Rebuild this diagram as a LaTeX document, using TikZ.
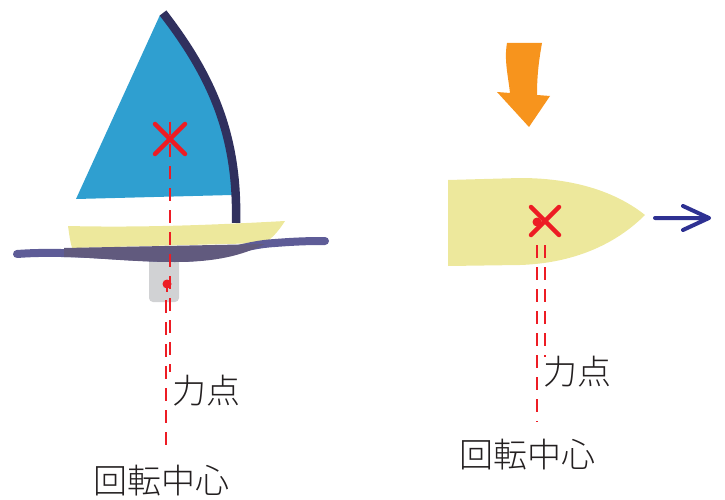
\documentclass[tikz,border=0pt]{standalone}
\usepackage{fontspec}
\newfontfamily\jpfont{Noto Sans CJK JP Light}
\definecolor{sailblue}{HTML}{2F9FD0}
\definecolor{mastnavy}{HTML}{30305E}
\definecolor{hullyellow}{HTML}{EDE89C}
\definecolor{waterline}{HTML}{5E5C97}
\definecolor{waterhull}{HTML}{615A7E}
\definecolor{keelgray}{HTML}{D1D2D4}
\definecolor{markred}{HTML}{ED1C24}
\definecolor{windorange}{HTML}{F7941D}
\definecolor{headblue}{HTML}{2E3192}
\definecolor{txtgray}{HTML}{231F20}
\tikzset{
  lbl/.style={font=\jpfont\fontsize{34}{36}\selectfont, text=txtgray, inner sep=0pt},
  cross/.style={draw=markred, line width=4.5pt, line cap=round},
  guide/.style={draw=markred, line width=2pt, dash pattern=on 13pt off 9pt},
  pivot/.style={fill=markred},
}
\begin{document}
\begin{tikzpicture}[x=1pt,y=-1pt]
\useasboundingbox (0,0) rectangle (725,500);

% ---------- sailboat, side view ----------
% keel
\fill[keelgray, rounded corners=4pt] (149,250) -- (179,250) -- (179,302) -- (149,302) -- cycle;
% sail
\fill[sailblue] (160,15) -- (76,199) -- (232,195) .. controls (232,140) and (210,75) .. (160,15) -- cycle;
% mast
\draw[mastnavy, line width=8.5pt] (163,13) .. controls (215,80) and (238,140) .. (236,223);
% hull
\fill[hullyellow] (68,226) .. controls (150,228) and (230,224) .. (285,221)
  .. controls (278,232) and (272,238) .. (265,243) -- (72,248) .. controls (70,240) .. (68,226) -- cycle;
% water line
\draw[waterline, line width=8pt, line cap=round]
  (17,254) .. controls (70,250) and (130,258) .. (175,258)
  .. controls (220,258) and (240,245) .. (275,243)
  .. controls (300,241) and (315,241) .. (325,241);
\fill[waterhull] (64,248) -- (265,244) .. controls (248,252) and (225,262) .. (175,262)
  .. controls (130,262) and (90,257) .. (64,257) -- cycle;

% marks
\coordinate (sailce) at (170,139);
\coordinate (keelpt) at (167,284);
\draw[cross] (155,124) -- (185,154) (185,124) -- (155,154);
\fill[pivot] (keelpt) circle (4.5pt);
\draw[markred, line width=2pt] (keelpt) -- ++(0,8);

\node[lbl, anchor=west] (forceL) at (172,391) {力点};
\node[lbl] (pivotL) at (161,481) {回転中心};
\coordinate (forceLend) at (170,372);
\coordinate (pivotLend) at (166,448);
\draw[guide] ([yshift=17pt]sailce) -- (forceLend);
\draw[guide] (166,300) -- (pivotLend);

% ---------- boat, top view ----------
% wind arrow
\fill[windorange] (507,43) -- (542,43) .. controls (538,65) and (537,80) .. (537,95)
  -- (550,96) -- (529,127) -- (497,92) -- (510,93)
  .. controls (508,75) and (504,60) .. (507,43) -- cycle;
% hull
\fill[hullyellow] (448,180) -- (520,178) .. controls (580,178) and (620,195) .. (645,215)
  .. controls (620,240) and (580,263) .. (520,265) -- (448,266) -- cycle;
% heading arrow
\coordinate (bow) at (655,218);
\coordinate (headtip) at (709,218);
\draw[headblue, line width=4pt, line cap=round, line join=round]
  (bow) -- (headtip) (683,206) -- (headtip) -- (683,230);

% marks
\coordinate (hullce) at (545,221);
\coordinate (hullpt) at (537,222);
\draw[cross] (531,207) -- (559,235) (559,207) -- (531,235);
\fill[pivot] (hullpt) circle (4.5pt);

\node[lbl, anchor=west] (forceR) at (543,372) {力点};
\node[lbl] (pivotR) at (527,455) {回転中心};
\coordinate (forceRend) at (545,357);
\coordinate (pivotRend) at (537,422);
\draw[guide] (545,245) -- (forceRend);
\draw[guide] (537,245) -- (pivotRend);
\end{tikzpicture}
\end{document}
